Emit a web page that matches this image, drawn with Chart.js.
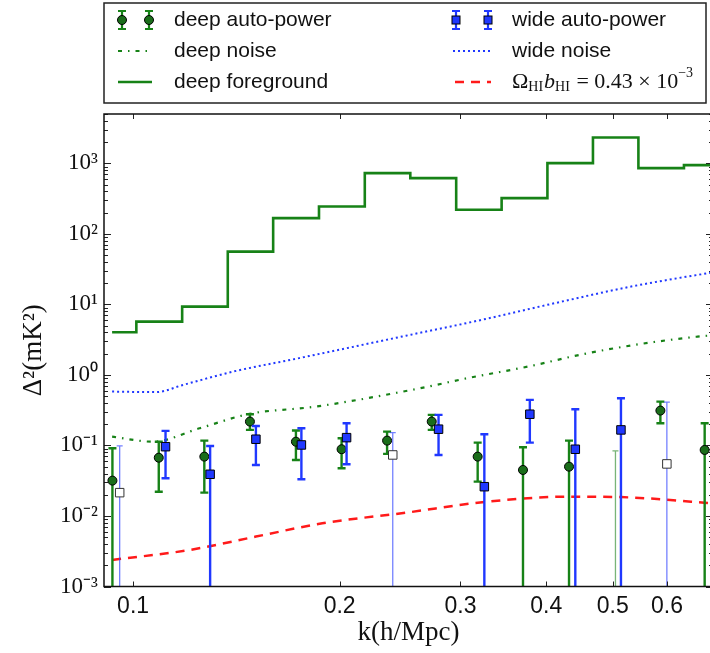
<!DOCTYPE html>
<html>
<head>
<meta charset="utf-8">
<script src="https://cdn.jsdelivr.net/npm/chart.js@4.4.0/dist/chart.umd.min.js"></script>
<style>
  html, body { margin: 0; padding: 0; background: #fff; overflow: hidden; }
  canvas { display: block; }
</style>
</head>
<body>
<canvas id="chart" width="720" height="653"></canvas>
<script>
// ticks dos eixos
const xTicks = [0.1, 0.2, 0.3, 0.4, 0.5, 0.6];
const xTickLabels = ['0.1', '0.2', '0.3', '0.4', '0.5', '0.6'];
const yTicks = [1e-3, 1e-2, 1e-1, 1, 10, 100, 1000];
const yTickLabels = ['10⁻³', '10⁻²', '10⁻¹', '10⁰', '10¹', '10²', '10³'];

// deep foreground: bordas dos bins e valores
const fgEdges = [0.0932, 0.1011, 0.1179, 0.1374, 0.160, 0.1866, 0.2176, 0.2535, 0.2957, 0.3444, 0.4016, 0.4679, 0.545, 0.635, 0.740];
const fgValues = [4.03, 5.70, 9.3, 56, 167, 244, 726, 617, 219, 321, 1007, 2323, 855, 943];

// curvas de ruído e modelo
const deepNoiseK = [0.0932, 0.1069, 0.125, 0.1477, 0.1845, 0.2578, 0.31, 0.376, 0.455, 0.55, 0.6646, 0.7];
const deepNoiseVal = [0.133, 0.113, 0.175, 0.28, 0.355, 0.627, 0.916, 1.31, 1.99, 2.75, 3.49, 3.65];
const wideNoiseK = [0.0932, 0.1081, 0.1182, 0.1397, 0.1746, 0.2466, 0.322, 0.4116, 0.532, 0.687, 0.7];
const wideNoiseVal = [0.58, 0.57, 0.72, 1.11, 1.73, 3.5, 6.03, 10.4, 17.9, 27.6, 28.4];
const modelK = [0.0932, 0.121, 0.151, 0.1887, 0.2493, 0.3295, 0.435, 0.514, 0.68, 0.7];
const modelVal = [0.00238, 0.0033, 0.0051, 0.00787, 0.0111, 0.016, 0.0188, 0.0185, 0.0154, 0.0150];

// deep auto-power (null = barra vai até o fundo)
const deepK = [0.0933, 0.109, 0.127, 0.148, 0.1727, 0.2013, 0.2345, 0.2724, 0.3178, 0.370, 0.4318, 0.5867, 0.6807];
const deepVal = [0.0317, 0.067, 0.0694, 0.218, 0.113, 0.0883, 0.117, 0.218, 0.0694, 0.0449, 0.05, 0.312, 0.0863];
const deepHi = [0.091, 0.113, 0.117, 0.277, 0.163, 0.1265, 0.157, 0.271, 0.1096, 0.0942, 0.117, 0.418, 0.206];
const deepLo = [null, 0.0221, 0.0214, 0.166, 0.0623, 0.0475, 0.0758, 0.166, 0.0307, null, null, 0.206, null];
const deepNegK = [0.5046];
const deepNegHi = [0.0836];

// wide auto-power
const wideK = [0.1115, 0.1295, 0.151, 0.1759, 0.2047, 0.2787, 0.325, 0.3786, 0.441, 0.514];
const wideVal = [0.096, 0.039, 0.1225, 0.1016, 0.129, 0.17, 0.026, 0.277, 0.0883, 0.166];
const wideHi = [0.161, 0.098, 0.189, 0.175, 0.2065, 0.271, 0.144, 0.442, 0.326, 0.467];
const wideLo = [0.0343, null, 0.0529, 0.0331, 0.0542, 0.0733, null, 0.1096, null, null];
const wideNegK = [0.0956, 0.239, 0.5996];
const wideNegVal = [0.0214, 0.0733, 0.0547];
const wideNegHi = [0.0984, 0.152, 0.41];

const GREEN = '#178217';
const GREEN_DARK = '#1a6d1a';
const BLUE = '#2038ff';
const RED = '#ff1a1a';

const pts = (ks, vs) => ks.map((k, i) => ({ x: k, y: vs[i] }));
const nulls = (n) => new Array(n).fill(null);

// barras de erro desenhadas pelas escalas
const errorBars = {
    id: 'errorBars',
    beforeDatasetDraw(chart, args) {
        const ds = chart.data.datasets[args.index];
        if (!ds.err) return;
        const { ctx, chartArea: a, scales: { x, y } } = chart;
        const e = ds.err;
        ctx.save();
        ctx.beginPath();
        ctx.rect(a.left, a.top, a.right - a.left, a.bottom - a.top);
        ctx.clip();
        ctx.strokeStyle = e.color;
        ctx.lineWidth = e.width;
        e.k.forEach((k, i) => {
            const px = x.getPixelForValue(k);
            const top = y.getPixelForValue(e.hi[i]);
            const bot = e.lo[i] == null ? a.bottom + 5 : y.getPixelForValue(e.lo[i]);
            ctx.beginPath();
            ctx.moveTo(px, top);
            ctx.lineTo(px, bot);
            ctx.moveTo(px - e.cap, top);
            ctx.lineTo(px + e.cap, top);
            if (e.lo[i] != null) {
                ctx.moveTo(px - e.cap, bot);
                ctx.lineTo(px + e.cap, bot);
            }
            ctx.stroke();
        });
        ctx.restore();
    }
};

// moldura e ticks para dentro
const frame = {
    id: 'frame',
    afterDatasetsDraw(chart) {
        const { ctx, chartArea: a, scales: { x, y } } = chart;
        ctx.save();
        ctx.strokeStyle = '#222';
        ctx.lineWidth = 1;
        ctx.beginPath();
        for (let d = -3; d <= 3; d++) {
            for (let m = 1; m <= 9; m++) {
                const v = m * Math.pow(10, d);
                if (v > y.max) break;
                const py = Math.round(y.getPixelForValue(v)) + 0.5;
                const len = m === 1 ? 7 : 4;
                ctx.moveTo(a.left, py); ctx.lineTo(a.left + len, py);
                ctx.moveTo(a.right, py); ctx.lineTo(a.right - len, py);
            }
        }
        xTicks.forEach(v => {
            const px = Math.round(x.getPixelForValue(v)) + 0.5;
            ctx.moveTo(px, a.bottom); ctx.lineTo(px, a.bottom - 5);
            ctx.moveTo(px, a.top); ctx.lineTo(px, a.top + 5);
        });
        ctx.stroke();
        ctx.lineWidth = 1.5;
        ctx.strokeStyle = '#111';
        ctx.strokeRect(a.left, a.top, a.right - a.left, a.bottom - a.top);
        ctx.restore();
    }
};

function drawCircle(ctx, x, y, r, fill) {
    ctx.beginPath();
    ctx.arc(x, y, r, 0, Math.PI * 2);
    ctx.fillStyle = fill;
    ctx.fill();
    ctx.lineWidth = 1;
    ctx.strokeStyle = '#000';
    ctx.stroke();
}

function drawSquare(ctx, x, y, s, fill) {
    ctx.fillStyle = fill;
    ctx.fillRect(x - s / 2, y - s / 2, s, s);
    ctx.lineWidth = 1;
    ctx.strokeStyle = '#000';
    ctx.strokeRect(x - s / 2, y - s / 2, s, s);
}

function drawBar(ctx, x, y, h, cap, color) {
    ctx.strokeStyle = color;
    ctx.lineWidth = 2.2;
    ctx.beginPath();
    ctx.moveTo(x, y - h); ctx.lineTo(x, y + h);
    ctx.moveTo(x - cap, y - h); ctx.lineTo(x + cap, y - h);
    ctx.moveTo(x - cap, y + h); ctx.lineTo(x + cap, y + h);
    ctx.stroke();
}

function drawSample(ctx, x1, x2, y, color, width, dash) {
    ctx.strokeStyle = color;
    ctx.lineWidth = width;
    ctx.setLineDash(dash);
    ctx.beginPath();
    ctx.moveTo(x1, y); ctx.lineTo(x2, y);
    ctx.stroke();
    ctx.setLineDash([]);
}

// legenda em caixa, duas colunas
const legendBox = {
    id: 'legendBox',
    afterDraw(chart) {
        const ctx = chart.ctx;
        const rows = [20, 51, 82];
        const lx = [118, 152], rx = [453, 491];
        ctx.save();
        ctx.fillStyle = '#fff';
        ctx.fillRect(104, 3, 602, 100);
        ctx.strokeStyle = '#222';
        ctx.lineWidth = 1.5;
        ctx.strokeRect(104, 3, 602, 100);

        [122, 149].forEach(x => {
            drawBar(ctx, x, rows[0], 9, 4, GREEN);
            drawCircle(ctx, x, rows[0], 4.5, GREEN_DARK);
        });
        drawSample(ctx, lx[0], lx[1], rows[1], GREEN, 2.2, [4, 6, 1.5, 6]);
        drawSample(ctx, lx[0], lx[1], rows[2], GREEN, 2.5, []);

        [456, 488].forEach(x => {
            drawBar(ctx, x, rows[0], 9, 4, BLUE);
            drawSquare(ctx, x, rows[0], 8, BLUE);
        });
        drawSample(ctx, rx[0], rx[1], rows[1], BLUE, 2, [2, 3]);
        drawSample(ctx, rx[0] + 2, rx[1], rows[2], RED, 2.5, [9, 7]);

        ctx.fillStyle = '#111';
        ctx.textBaseline = 'middle';
        ctx.font = '21px "Liberation Sans", Arial, sans-serif';
        ctx.fillText('deep auto-power', 174, rows[0]);
        ctx.fillText('deep noise', 174, rows[1]);
        ctx.fillText('deep foreground', 174, rows[2]);
        ctx.fillText('wide auto-power', 512, rows[0]);
        ctx.fillText('wide noise', 512, rows[1]);

        // Ω_HI b_HI = 0.43 × 10^-3
        const big = '22px "Liberation Serif", serif';
        const bigIt = 'italic 22px "Liberation Serif", serif';
        const small = '14px "Liberation Serif", serif';
        const parts = [
            ['Ω', big, 0], ['HI', small, 5], ['b', bigIt, 0], ['HI', small, 5],
            [' = 0.43 × 10', big, 0], ['−3', small, -9]
        ];
        let x = 512;
        parts.forEach(([t, f, dy]) => {
            ctx.font = f;
            ctx.fillText(t, x, rows[2] + dy);
            x += ctx.measureText(t).width + (f === small ? 1 : 0);
        });
        ctx.restore();
    }
};

const fgPoints = fgEdges.map((k, i) => ({ x: k, y: fgValues[Math.min(i, fgValues.length - 1)] }));

new Chart(document.getElementById('chart'), {
    type: 'scatter',
    data: {
        datasets: [
            {
                label: 'wide auto-power',
                data: pts(wideK, wideVal),
                pointStyle: 'rect',
                pointRadius: 6,
                backgroundColor: BLUE,
                borderColor: '#000',
                borderWidth: 1,
                err: { k: wideK, hi: wideHi, lo: wideLo, color: BLUE, width: 2.4, cap: 4 },
                order: 0
            },
            {
                label: 'wide auto-power (negative)',
                data: pts(wideNegK, wideNegVal),
                pointStyle: 'rect',
                pointRadius: 6,
                backgroundColor: '#fff',
                borderColor: '#333',
                borderWidth: 1,
                err: { k: wideNegK, hi: wideNegHi, lo: nulls(wideNegK.length), color: 'rgba(40,60,255,0.65)', width: 1.3, cap: 3 },
                order: 1
            },
            {
                label: 'deep auto-power',
                data: pts(deepK, deepVal),
                pointStyle: 'circle',
                pointRadius: 4.5,
                backgroundColor: GREEN_DARK,
                borderColor: '#000',
                borderWidth: 1,
                err: { k: deepK, hi: deepHi, lo: deepLo, color: GREEN, width: 2.4, cap: 4 },
                order: 2
            },
            {
                label: 'deep auto-power (negative)',
                data: [],
                err: { k: deepNegK, hi: deepNegHi, lo: nulls(deepNegK.length), color: 'rgba(30,130,30,0.6)', width: 1.3, cap: 3 },
                order: 3
            },
            {
                label: 'ΩHI bHI = 0.43 × 10⁻³',
                data: pts(modelK, modelVal),
                showLine: true,
                pointRadius: 0,
                borderColor: RED,
                borderWidth: 2.5,
                borderDash: [9, 7],
                cubicInterpolationMode: 'monotone',
                order: 4
            },
            {
                label: 'deep noise',
                data: pts(deepNoiseK, deepNoiseVal),
                showLine: true,
                pointRadius: 0,
                borderColor: GREEN,
                borderWidth: 2.2,
                borderDash: [4, 6, 1.5, 6],
                cubicInterpolationMode: 'monotone',
                order: 5
            },
            {
                label: 'wide noise',
                data: pts(wideNoiseK, wideNoiseVal),
                showLine: true,
                pointRadius: 0,
                borderColor: BLUE,
                borderWidth: 2,
                borderDash: [2, 3],
                cubicInterpolationMode: 'monotone',
                order: 6
            },
            {
                label: 'deep foreground',
                data: fgPoints,
                showLine: true,
                stepped: 'before',
                pointRadius: 0,
                borderColor: GREEN,
                borderWidth: 2.6,
                order: 7
            }
        ]
    },
    options: {
        responsive: false,
        animation: false,
        events: [],
        layout: { padding: { left: 0, right: 4.5, top: 114, bottom: 0 } },
        plugins: {
            legend: { display: false },
            tooltip: { enabled: false }
        },
        scales: {
            x: {
                type: 'logarithmic',
                min: 0.0907,
                max: 0.7,
                grid: { display: false, drawTicks: false },
                border: { display: false },
                afterBuildTicks: (axis) => { axis.ticks = xTicks.map(v => ({ value: v })); },
                afterFit: (axis) => { axis.height = 66.5; },
                ticks: {
                    autoSkip: false,
                    maxRotation: 0,
                    padding: 6,
                    color: '#111',
                    font: { family: '"Liberation Sans", Arial, sans-serif', size: 23 },
                    callback: (v) => xTickLabels[xTicks.indexOf(v)]
                },
                title: {
                    display: true,
                    text: 'k(h/Mpc)',
                    color: '#111',
                    padding: { top: 0, bottom: 4 },
                    font: { family: '"Liberation Serif", serif', size: 27 }
                }
            },
            y: {
                type: 'logarithmic',
                min: 1e-3,
                max: 5000,
                grid: { display: false, drawTicks: false },
                border: { display: false },
                afterBuildTicks: (axis) => { axis.ticks = yTicks.map(v => ({ value: v })); },
                afterFit: (axis) => { axis.width = 104; },
                ticks: {
                    autoSkip: false,
                    padding: 6,
                    color: '#111',
                    font: { family: '"Liberation Serif", serif', size: 23 },
                    callback: (v) => yTickLabels[yTicks.indexOf(v)]
                },
                title: {
                    display: true,
                    text: 'Δ²(mK²)',
                    color: '#111',
                    padding: { top: 18, bottom: 0 },
                    font: { family: '"Liberation Serif", serif', size: 27 }
                }
            }
        }
    },
    plugins: [errorBars, frame, legendBox]
});
</script>
</body>
</html>
